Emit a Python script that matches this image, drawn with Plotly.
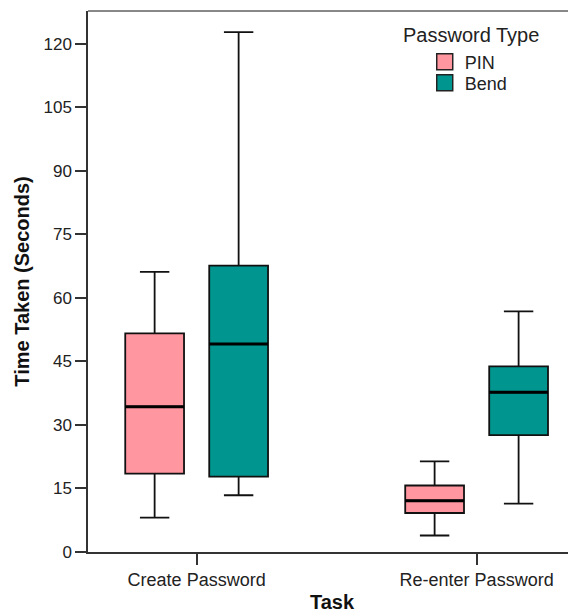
import plotly.graph_objects as go

tasks = ["Create Password", "Re-enter Password"]
series = ["PIN", "Bend"]
colors = {"PIN": "#FF96A0", "Bend": "#00968F"}

# box statistics per series, one value per task
pin_low = [8.1, 3.9]
pin_q1 = [18.5, 9.2]
pin_med = [34.3, 12.1]
pin_q3 = [51.6, 15.7]
pin_high = [66.1, 21.4]

bend_low = [13.4, 11.4]
bend_q1 = [17.8, 27.6]
bend_med = [49.1, 37.7]
bend_q3 = [67.6, 43.8]
bend_high = [122.7, 56.8]

y_ticks = [0, 15, 30, 45, 60, 75, 90, 105, 120]

stats = {
    "PIN": (pin_low, pin_q1, pin_med, pin_q3, pin_high),
    "Bend": (bend_low, bend_q1, bend_med, bend_q3, bend_high),
}

FONT = "Liberation Sans, Arial, sans-serif"
TXT = "#222222"

fig = go.Figure()
for name in series:
    lo, q1, med, q3, hi = stats[name]
    fig.add_trace(go.Box(
        name=name,
        x=tasks,
        lowerfence=lo, q1=q1, median=med, q3=q3, upperfence=hi,
        fillcolor=colors[name],
        line=dict(color="#111111", width=1.8),
        whiskerwidth=0.5,
        boxpoints=False,
        hoverinfo="skip",
        offsetgroup=name,
        showlegend=False,
    ))
    # thicker median line drawn over the box
    fig.add_trace(go.Box(
        name=name + " median",
        x=tasks,
        lowerfence=med, q1=med, median=med, q3=med, upperfence=med,
        fillcolor="rgba(0,0,0,0)",
        line=dict(color="#000000", width=3),
        whiskerwidth=0.5,
        boxpoints=False,
        hoverinfo="skip",
        offsetgroup=name,
        showlegend=False,
    ))

# legend swatches (legend-only entries), one legend per entry
legend_ids = {"PIN": "legend", "Bend": "legend2"}
for name in series:
    fig.add_trace(go.Scatter(
        name=name, x=[None], y=[None], mode="markers",
        marker=dict(symbol="square", size=16, color=colors[name],
                    line=dict(color="#222222", width=1.5)),
        showlegend=True, hoverinfo="skip", legend=legend_ids[name],
    ))

legend_common = dict(
    font=dict(size=18, family=FONT, color=TXT),
    xanchor="left", yanchor="middle",
    bgcolor="rgba(0,0,0,0)", borderwidth=0,
)

fig.update_layout(
    width=568, height=605,
    margin=dict(l=80, r=0, t=3, b=61),
    paper_bgcolor="white", plot_bgcolor="white",
    boxmode="group", boxgap=0.4, boxgroupgap=0.3,
    font=dict(family=FONT, color=TXT),
    showlegend=True,
    legend=dict(x=0.69, y=1 - (62 - 11) / 541, **legend_common),
    legend2=dict(x=0.69, y=1 - (83 - 11) / 541, **legend_common),
    annotations=[dict(
        text="Password Type", xref="paper", yref="paper",
        x=(471 - 88) / 488, y=1 - (35 - 11) / 541,
        xanchor="center", yanchor="middle", showarrow=False,
        font=dict(size=20, family=FONT, color=TXT),
    )],
    xaxis=dict(
        type="category",
        range=[-0.388, 1.355],
        showline=True, linecolor="#333333", linewidth=1.5,
        ticks="outside", ticklen=11, tickcolor="#333333", tickwidth=1.5,
        tickfont=dict(size=18, family=FONT, color=TXT),
        showgrid=False, zeroline=False,
        title=dict(text="<b>Task</b>", font=dict(size=20, family=FONT, color="#111111"),
                   standoff=9),
    ),
    yaxis=dict(
        range=[0, 127.7],
        tickvals=y_ticks,
        showline=True, linecolor="#333333", linewidth=1.5,
        ticks="outside", ticklen=11, tickcolor="#333333", tickwidth=1.5,
        tickfont=dict(size=17, family=FONT, color=TXT),
        showgrid=False, zeroline=False,
        title=dict(text="<b>Time Taken (Seconds)</b>",
                   font=dict(size=20, family=FONT, color="#111111"), standoff=8),
    ),
    shapes=[dict(type="line", xref="paper", yref="paper", x0=0, x1=1, y0=1, y1=1,
                 line=dict(color="#888888", width=2))],
)

fig.write_html("out.html")
